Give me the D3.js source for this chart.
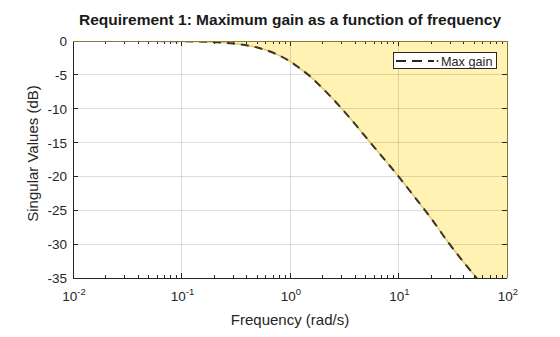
<!DOCTYPE html>
<html><head><meta charset="utf-8">
<script src="https://cdn.jsdelivr.net/npm/d3@7"></script>
<style>body{margin:0;background:#fff}svg{display:block;font-family:"Liberation Sans",Arial,sans-serif}</style>
</head><body>
<svg id="c" width="560" height="337"></svg>
<script>
const freqs = [0.01, 0.03, 0.1, 0.2, 0.3, 0.5, 0.7, 1, 1.2, 1.5, 2, 2.5, 3, 4, 5, 7, 10, 15, 20, 28, 40, 50, 100];
const gainDb = [0, 0, -0.04, -0.17, -0.37, -0.97, -1.74, -3.0, -3.9, -5.1, -7.0, -8.6, -10.0, -12.3, -14.2, -17.0, -20.0, -23.6, -26.2, -29.5, -32.7, -34.6, -40.5];
const yTicks = [0, -5, -10, -15, -20, -25, -30, -35];
const xTicks = [0.01, 0.1, 1, 10, 100];
const xTickExp = ["-2", "-1", "0", "1", "2"];
const seriesName = "Max gain";

const svg = d3.select("#c");
const L = 73, R = 507, T = 41, B = 278;
const x = d3.scaleLog().domain([0.01, 100]).range([L, R]);
const y = d3.scaleLinear().domain([-35, 0]).range([B, T]);
const pts = freqs.map((f, i) => [f, gainDb[i]]);

svg.append("defs").append("clipPath").attr("id", "clip")
  .append("rect").attr("x", L).attr("y", T).attr("width", R - L).attr("height", B - T);

const g = svg.append("g").attr("clip-path", "url(#clip)");
const line = d3.line().x(d => x(d[0])).y(d => y(d[1])).curve(d3.curveMonotoneX);
const area = d3.area().x(d => x(d[0])).y0(y(0)).y1(d => y(d[1])).curve(d3.curveMonotoneX);
g.append("path").datum(pts).attr("d", area).attr("fill", "#fff2b3");

// grid
const minor = [];
for (let d = 0.01; d < 100; d *= 10) for (let k = 2; k <= 9; k++) minor.push(d * k);
g.selectAll(".gx").data(xTicks).join("line")
  .attr("x1", d => x(d)).attr("x2", d => x(d)).attr("y1", T).attr("y2", B)
  .attr("stroke", "#000").attr("stroke-opacity", 0.13).attr("stroke-width", 1).attr("shape-rendering", "crispEdges");
g.selectAll(".gy").data(yTicks).join("line")
  .attr("x1", L).attr("x2", R).attr("y1", d => y(d)).attr("y2", d => y(d))
  .attr("stroke", "#000").attr("stroke-opacity", 0.13).attr("stroke-width", 1).attr("shape-rendering", "crispEdges");

g.append("path").datum(pts).attr("d", line).attr("fill", "none").attr("stroke", "#e0c870").attr("stroke-width", 1.5);
g.append("path").datum(pts).attr("d", line).attr("fill", "none").attr("stroke", "#3a3520")
  .attr("stroke-width", 2).attr("stroke-dasharray", "8,6");

// axes box
const ax = svg.append("g").attr("shape-rendering", "crispEdges");
const tickC = "#262626";
ax.append("line").attr("x1", L).attr("x2", R).attr("y1", B).attr("y2", B).attr("stroke", tickC);
ax.append("line").attr("x1", L).attr("x2", L).attr("y1", T).attr("y2", B).attr("stroke", tickC);
xTicks.forEach(d => {
  ax.append("line").attr("x1", x(d)).attr("x2", x(d)).attr("y1", B).attr("y2", B - 5).attr("stroke", tickC);
  ax.append("line").attr("x1", x(d)).attr("x2", x(d)).attr("y1", T).attr("y2", T + 5).attr("stroke", tickC);
});
minor.forEach(d => {
  ax.append("line").attr("x1", x(d)).attr("x2", x(d)).attr("y1", B).attr("y2", B - 3).attr("stroke", tickC);
  ax.append("line").attr("x1", x(d)).attr("x2", x(d)).attr("y1", T).attr("y2", T + 3).attr("stroke", tickC);
});
yTicks.forEach(d => {
  ax.append("line").attr("x1", L).attr("x2", L + 5).attr("y1", y(d)).attr("y2", y(d)).attr("stroke", tickC);
  ax.append("line").attr("x1", R).attr("x2", R - 5).attr("y1", y(d)).attr("y2", y(d)).attr("stroke", tickC);
});
ax.append("line").attr("x1", L).attr("x2", R).attr("y1", T).attr("y2", T).attr("stroke", "#8a7a30");
ax.append("line").attr("x1", R).attr("x2", R).attr("y1", T).attr("y2", B).attr("stroke", "#8a7a30");

// tick labels
svg.selectAll(".yl").data(yTicks).join("text")
  .attr("x", L - 6).attr("y", d => y(d) + 5).attr("text-anchor", "end")
  .attr("font-size", 13.5).attr("fill", tickC).text(d => d);
xTicks.forEach((d, i) => {
  const t = svg.append("text").attr("x", x(d) + 1).attr("y", 301).attr("text-anchor", "middle")
    .attr("font-size", 13.5).attr("fill", tickC);
  t.append("tspan").text("10");
  t.append("tspan").attr("dy", -6).attr("font-size", 9.5).text(xTickExp[i]);
});

// axis labels & title
svg.append("text").attr("x", (L + R) / 2).attr("y", 325).attr("text-anchor", "middle")
  .attr("font-size", 15).attr("fill", tickC).text("Frequency (rad/s)");
svg.append("text").attr("transform", `translate(38,${(T + B) / 2 - 6}) rotate(-90)`).attr("text-anchor", "middle")
  .attr("font-size", 15).attr("fill", tickC).text("Singular Values (dB)");
svg.append("text").attr("x", 290).attr("y", 25).attr("text-anchor", "middle")
  .attr("font-size", 15.5).attr("font-weight", "bold").attr("fill", "#1a1a1a")
  .text("Requirement 1: Maximum gain as a function of frequency");

// legend
const lg = svg.append("g");
lg.append("rect").attr("x", 393.5).attr("y", 52.5).attr("width", 103).attr("height", 16)
  .attr("fill", "#fff").attr("stroke", "#262626").attr("stroke-width", 1);
lg.append("line").attr("x1", 396).attr("x2", 434).attr("y1", 61).attr("y2", 61)
  .attr("stroke", "#262626").attr("stroke-width", 2).attr("stroke-dasharray", "10,6");
lg.append("circle").attr("cx", 437.5).attr("cy", 61).attr("r", 1).attr("fill", "#262626");
lg.append("text").attr("x", 441).attr("y", 65.5).attr("font-size", 12.7).attr("fill", "#262626").text(seriesName);
</script>
</body></html>
